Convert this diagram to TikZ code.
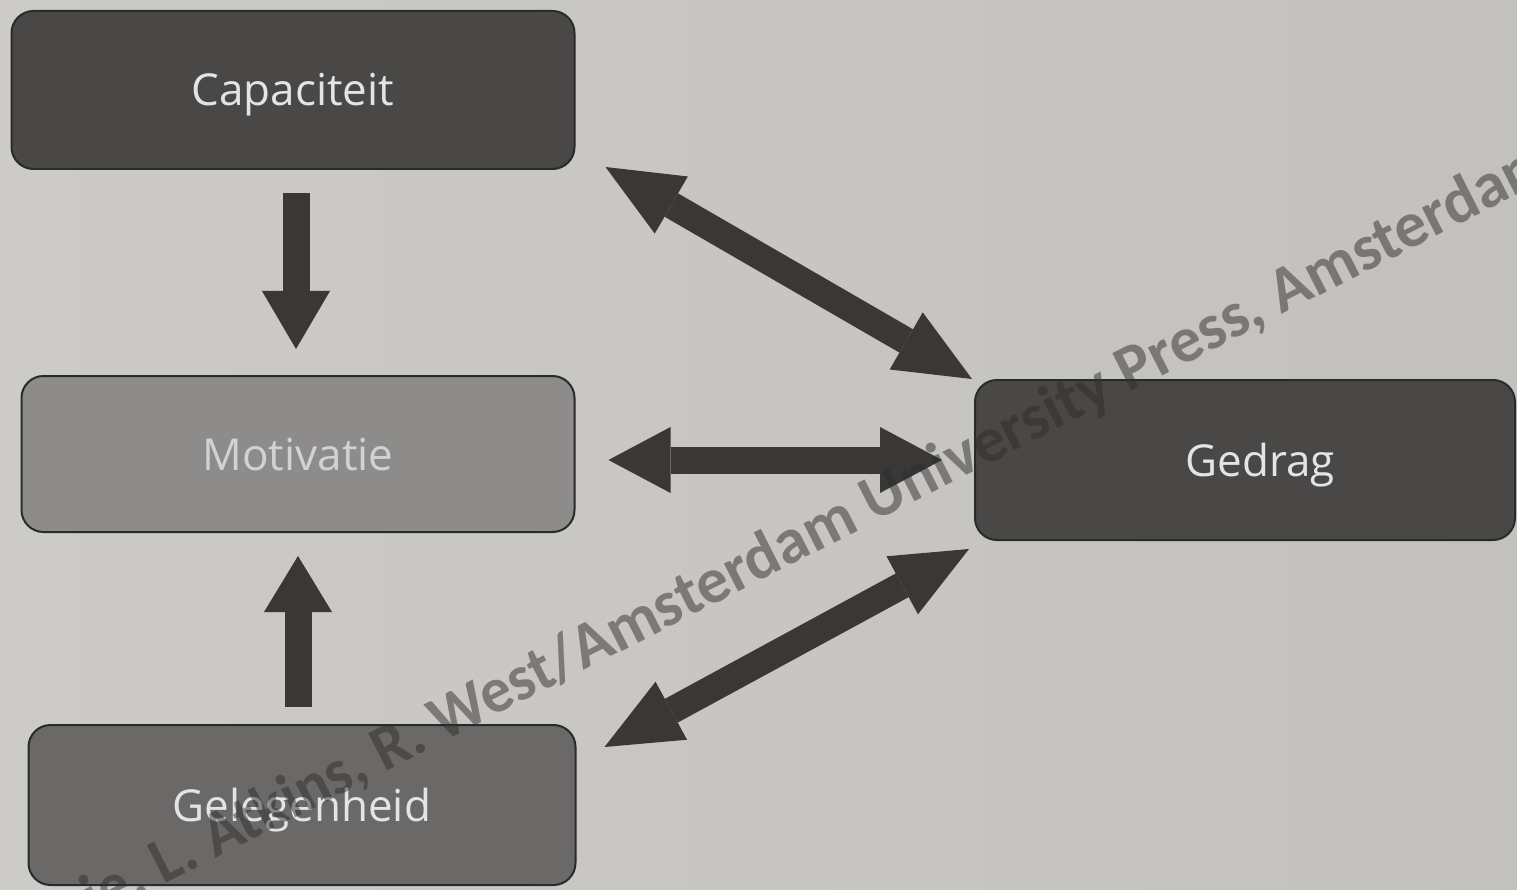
\documentclass[tikz,border=0pt]{standalone}
\usepackage{fontspec}
\setmainfont{Open Sans}
\newfontfamily\wmfont{Carlito}
\usetikzlibrary{arrows.meta,calc}
\definecolor{bgc}{HTML}{C8C6C3}
\definecolor{bgl}{HTML}{CDCBC8}
\definecolor{bgd}{HTML}{C3C1BE}
\definecolor{darkbox}{HTML}{4A4846}
\definecolor{midbox}{HTML}{6B6967}
\definecolor{lightbox}{HTML}{8E8C8A}
\definecolor{edgec}{HTML}{2A2A2A}
\definecolor{arrowc}{HTML}{3A3837}
\definecolor{txtc}{HTML}{E4E4E4}
\definecolor{wmc}{HTML}{2E2E2E}
\tikzset{
  box/.style={rectangle, rounded corners=22pt, draw=edgec, line width=2pt,
    text=txtc, font=\fontsize{44}{50}\selectfont, inner sep=0pt,
    text height=32pt, text depth=0pt},
  blk/.style={draw=arrowc, line width=27pt},
  wm/.style={font=\wmfont\bfseries\fontsize{64.5}{70}\selectfont, text=wmc,
    text opacity=0.5, rotate=27, inner sep=0pt}
}
\begin{document}
\begin{tikzpicture}[x=1pt,y=-1pt]
\useasboundingbox (0,0) rectangle (1517,890);
\clip (0,0) rectangle (1517,890);
\shade[left color=bgl, right color=bgd] (0,0) rectangle (1517,890);

\node[box, fill=darkbox, minimum width=563pt, minimum height=158pt] (cap) at (293,90) {Capaciteit};
\node[box, fill=lightbox, text=txtc!92!black, minimum width=553pt, minimum height=156pt] (mot) at (298,454) {Motivatie};
\node[box, fill=midbox, minimum width=547pt, minimum height=160pt] (gel) at (302,805) {Gelegenheid};
\node[box, fill=darkbox, minimum width=540pt, minimum height=160pt] (ged) at (1245,460) {\hspace*{30pt}Gedrag};

% vertical arrows
\draw[blk, -{Triangle[length=58pt,width=68pt,line width=0pt]}]
  ($(cap.south)+(3,23)$) -- ($(mot.north)+(-2,-26)$);
\draw[blk, -{Triangle[length=56pt,width=68pt,line width=0pt]}]
  ($(gel.north)+(-4,-17)$) -- ($(mot.south)+(0,23)$);
% double arrows to Gedrag
\draw[blk, {Triangle[length=76pt,width=66pt,line width=0pt]}-{Triangle[length=76pt,width=66pt,line width=0pt]}]
  ($(cap.south east)+(30,-3)$) -- ($(ged.north west)+(-2,0)$);
\draw[blk, {Triangle[length=62pt,width=66pt,line width=0pt]}-{Triangle[length=62pt,width=66pt,line width=0pt]}]
  ($(mot.east |- ged.west)+(33,0)$) -- ($(ged.west)+(-32,0)$);
\draw[blk, {Triangle[length=76pt,width=66pt,line width=0pt]}-{Triangle[length=76pt,width=66pt,line width=0pt]}]
  ($(gel.north east)+(28,23)$) -- ($(ged.south west)+(-5,8)$);

% watermark
\coordinate (wa) at (583,671);
\node[wm, xscale=0.96, anchor=base east] (wm1) at (wa) {ie, L. Atkins, R. West/};
\node[wm, anchor=base west] (wm2) at (wa) {Amsterdam University Press, Amsterdam};
\end{tikzpicture}
\end{document}
